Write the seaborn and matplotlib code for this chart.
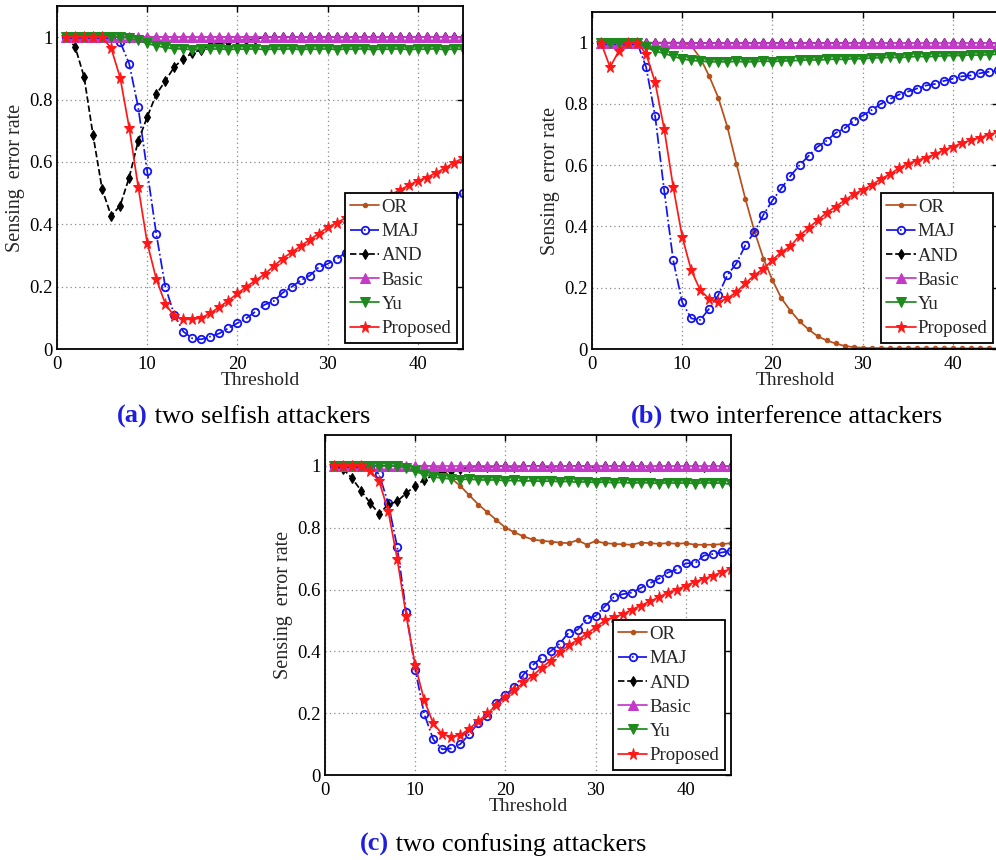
import numpy as np
import pandas as pd
import matplotlib
matplotlib.use("Agg")
import matplotlib.pyplot as plt
import seaborn as sns

# ---------------- data ----------------
threshold = list(range(1, 46))
series_names = ["OR", "MAJ", "AND", "Basic", "Yu", "Proposed"]
x_ticks = [0, 10, 20, 30, 40]
y_ticks = [0, 0.2, 0.4, 0.6, 0.8, 1.0]
y_tick_labels = ["0", "0.2", "0.4", "0.6", "0.8", "1"]
captions = [("(a)", " two selfish attackers"),
            ("(b)", " two interference attackers"),
            ("(c)", " two confusing attackers")]

# (a) two selfish attackers
a_or = [1.0] * 45
a_maj = [1.0, 1.0, 1.0, 1.0, 1.0, 1.0, 0.985, 0.915, 0.775, 0.57,
         0.37, 0.20, 0.11, 0.056, 0.034, 0.031, 0.04, 0.05, 0.067, 0.083,
         0.099, 0.12, 0.142, 0.153, 0.18, 0.199, 0.22, 0.235, 0.262, 0.273,
         0.289, 0.309, 0.325, 0.34, 0.355, 0.37, 0.385, 0.40, 0.415, 0.43,
         0.445, 0.46, 0.475, 0.49, 0.50]
a_and = [1.0, 0.97, 0.873, 0.685, 0.513, 0.427, 0.46, 0.55, 0.667, 0.744,
         0.817, 0.859, 0.905, 0.93, 0.95, 0.96, 0.975, 0.98, 0.985, 0.99,
         0.99, 0.995, 1.0, 1.0, 1.0, 1.0, 1.0, 1.0, 1.0, 1.0,
         1.0, 1.0, 1.0, 1.0, 1.0, 1.0, 1.0, 1.0, 1.0, 1.0,
         1.0, 1.0, 1.0, 1.0, 1.0]
a_basic = [1.0] * 45
a_yu = [1.0, 1.0, 1.0, 1.0, 1.0, 1.0, 1.0, 0.997, 0.99, 0.98,
        0.972, 0.967, 0.963, 0.962, 0.96, 0.962, 0.961, 0.963, 0.96, 0.962,
        0.961, 0.963, 0.96, 0.962, 0.961, 0.963, 0.96, 0.962, 0.961, 0.963,
        0.96, 0.962, 0.961, 0.963, 0.96, 0.962, 0.961, 0.963, 0.96, 0.962,
        0.961, 0.963, 0.96, 0.962, 0.961]
a_prop = [1.0, 1.0, 1.0, 1.0, 1.0, 0.965, 0.87, 0.71, 0.52, 0.34,
          0.225, 0.145, 0.105, 0.095, 0.095, 0.10, 0.115, 0.135, 0.155, 0.178,
          0.20, 0.22, 0.24, 0.265, 0.29, 0.31, 0.33, 0.35, 0.37, 0.39,
          0.405, 0.42, 0.435, 0.45, 0.465, 0.48, 0.495, 0.51, 0.525, 0.54,
          0.55, 0.565, 0.58, 0.598, 0.612]

# (b) two interference attackers
b_or = [1.0, 1.0, 1.0, 1.0, 1.0, 1.0, 1.0, 1.0, 1.0, 1.0,
        0.99, 0.95, 0.89, 0.82, 0.725, 0.605, 0.49, 0.385, 0.295, 0.225,
        0.165, 0.125, 0.09, 0.064, 0.042, 0.028, 0.018, 0.01, 0.006, 0.004,
        0.003, 0.003, 0.002, 0.002, 0.002, 0.002, 0.002, 0.002, 0.002, 0.002,
        0.002, 0.002, 0.002, 0.002, 0.002]
b_maj = [1.0, 1.0, 1.0, 1.0, 1.0, 0.92, 0.76, 0.518, 0.29, 0.152,
         0.10, 0.095, 0.132, 0.176, 0.241, 0.279, 0.339, 0.382, 0.438, 0.485,
         0.525, 0.565, 0.60, 0.63, 0.66, 0.68, 0.705, 0.72, 0.745, 0.762,
         0.78, 0.80, 0.815, 0.83, 0.84, 0.85, 0.86, 0.865, 0.875, 0.882,
         0.89, 0.893, 0.90, 0.905, 0.91]
b_and = [1.0] * 45
b_basic = [1.0] * 45
b_yu = [1.0, 1.0, 1.0, 1.0, 1.0, 0.985, 0.972, 0.965, 0.955, 0.947,
        0.942, 0.94, 0.937, 0.938, 0.937, 0.939, 0.937, 0.938, 0.94, 0.938,
        0.94, 0.941, 0.942, 0.944, 0.943, 0.945, 0.946, 0.945, 0.948, 0.947,
        0.95, 0.951, 0.952, 0.951, 0.953, 0.955, 0.954, 0.955, 0.957, 0.958,
        0.958, 0.96, 0.959, 0.961, 0.962]
b_prop = [1.0, 0.92, 0.974, 1.0, 1.0, 0.963, 0.87, 0.718, 0.529, 0.366,
          0.257, 0.192, 0.163, 0.154, 0.165, 0.186, 0.214, 0.241, 0.262, 0.29,
          0.317, 0.335, 0.37, 0.395, 0.42, 0.445, 0.465, 0.485, 0.505, 0.52,
          0.535, 0.555, 0.57, 0.59, 0.605, 0.615, 0.625, 0.635, 0.65, 0.66,
          0.672, 0.682, 0.69, 0.70, 0.708]

# (c) two confusing attackers
c_or = [1.0, 1.0, 1.0, 1.0, 1.0, 1.0, 1.0, 1.0, 1.0, 1.0,
        1.0, 1.0, 0.99, 0.96, 0.935, 0.905, 0.875, 0.85, 0.825, 0.80,
        0.785, 0.772, 0.762, 0.758, 0.755, 0.752, 0.75, 0.76, 0.745, 0.757,
        0.75, 0.748, 0.746, 0.745, 0.752, 0.75, 0.748, 0.75, 0.748, 0.75,
        0.745, 0.745, 0.745, 0.747, 0.75]
c_maj = [1.0, 1.0, 1.0, 1.0, 1.0, 0.973, 0.88, 0.739, 0.527, 0.341,
         0.197, 0.115, 0.083, 0.086, 0.10, 0.132, 0.169, 0.19, 0.233, 0.258,
         0.285, 0.325, 0.355, 0.38, 0.40, 0.425, 0.46, 0.47, 0.505, 0.515,
         0.545, 0.575, 0.585, 0.59, 0.605, 0.62, 0.635, 0.655, 0.665, 0.685,
         0.685, 0.71, 0.715, 0.72, 0.725]
c_and = [1.0, 0.99, 0.96, 0.92, 0.88, 0.845, 0.875, 0.885, 0.912, 0.935,
         0.955, 0.97, 0.98, 0.985, 0.99, 0.995, 1.0, 0.995, 1.0, 1.0,
         0.995, 1.0, 1.0, 1.0, 0.995, 1.0, 1.0, 1.0, 1.0, 0.995,
         1.0, 1.0, 1.0, 1.0, 1.0, 0.995, 1.0, 1.0, 1.0, 1.0,
         1.0, 0.995, 1.0, 1.0, 1.0]
c_basic = [1.0] * 45
c_yu = [1.0, 1.0, 1.0, 1.0, 1.0, 1.0, 1.0, 1.0, 0.993, 0.982,
        0.972, 0.965, 0.96, 0.958, 0.956, 0.957, 0.955, 0.954, 0.955, 0.952,
        0.953, 0.951, 0.952, 0.95, 0.951, 0.949, 0.95, 0.947, 0.949, 0.946,
        0.948, 0.945, 0.947, 0.944, 0.946, 0.945, 0.943, 0.946, 0.944, 0.945,
        0.943, 0.946, 0.944, 0.945, 0.94]
c_prop = [1.0, 1.0, 1.0, 1.0, 0.985, 0.95, 0.855, 0.70, 0.516, 0.355,
          0.242, 0.167, 0.132, 0.124, 0.129, 0.15, 0.174, 0.199, 0.226, 0.253,
          0.274, 0.30, 0.32, 0.347, 0.37, 0.398, 0.419, 0.437, 0.457, 0.478,
          0.50, 0.51, 0.52, 0.535, 0.548, 0.562, 0.575, 0.59, 0.60, 0.613,
          0.625, 0.635, 0.645, 0.657, 0.667]

panels = [
    [a_or, a_maj, a_and, a_basic, a_yu, a_prop],
    [b_or, b_maj, b_and, b_basic, b_yu, b_prop],
    [c_or, c_maj, c_and, c_basic, c_yu, c_prop],
]

# ---------------- styles ----------------
styles = {
    "OR":       dict(color="#B5501C", marker="o", linestyle="-", markersize=3.2,
                     markerfacecolor="#B5501C", markeredgecolor="#B5501C"),
    "MAJ":      dict(color="#1414F0", marker="o", linestyle="-.", markersize=5.4,
                     markerfacecolor="none", markeredgecolor="#1414F0", markeredgewidth=1.3),
    "AND":      dict(color="black", marker="d", linestyle="--", markersize=4.8,
                     markerfacecolor="black", markeredgecolor="black"),
    "Basic":    dict(color="#C33AC8", marker="^", linestyle="-", markersize=7,
                     markerfacecolor="#C33AC8", markeredgecolor="#C33AC8"),
    "Yu":       dict(color="#1E8A1E", marker="v", linestyle="-", markersize=7,
                     markerfacecolor="#1E8A1E", markeredgecolor="#1E8A1E"),
    "Proposed": dict(color="#FF1818", marker="*", linestyle="-", markersize=8.2,
                     markerfacecolor="#FF1818", markeredgecolor="#FF1818"),
}

sns.set_style("white")
plt.rcParams["font.family"] = ["Liberation Serif", "DejaVu Serif"]

fig = plt.figure(figsize=(9.96, 8.6), dpi=100)
W, H = 996.0, 860.0
# axes boxes in pixels: left, top, right, bottom
boxes = [(57, 6, 463, 349), (592, 12, 998, 349), (325, 435, 731, 775)]
legend_anchor = [(0.985, 0.018), (0.988, 0.018), (0.985, 0.015)]

for idx, (box, data) in enumerate(zip(boxes, panels)):
    l, t, r, b = box
    ax = fig.add_axes([l / W, (H - b) / H, (r - l) / W, (b - t) / H])
    ax.set_axisbelow(True)
    for name, vals in zip(series_names, data):
        st = styles[name]
        sns.lineplot(x=threshold, y=vals, ax=ax, label=name, linewidth=1.25,
                     sort=False, estimator=None, **st)
    ax.set_xlim(0, 45)
    ax.set_ylim(0, 1.1)
    ax.set_xticks(x_ticks)
    ax.set_xticklabels([str(v) for v in x_ticks])
    ax.set_yticks(y_ticks)
    ax.set_yticklabels(y_tick_labels)
    ax.tick_params(direction="in", top=True, right=True, length=4, width=1,
                   labelsize=13.5, colors="black")
    ax.tick_params(axis="x", pad=5)
    ax.tick_params(axis="y", pad=3)
    ax.grid(True, linestyle=(0, (1, 2.5)), color="#8a8a8a", linewidth=0.9)
    for sp in ax.spines.values():
        sp.set_color("black")
        sp.set_linewidth(1.3)
    ax.set_xlabel("Threshold", fontsize=14, labelpad=-1)
    ax.set_ylabel("Sensing  error rate", fontsize=14.5, labelpad=3)
    leg = ax.legend(loc="lower right", bbox_to_anchor=legend_anchor[idx],
                    borderaxespad=0, frameon=True, fancybox=False,
                    edgecolor="black", framealpha=1, fontsize=13.5,
                    handlelength=1.55, handletextpad=0.12, labelspacing=0.38,
                    borderpad=0.3, numpoints=1)
    leg.get_frame().set_linewidth(1.3)

# captions
cap_pos = [(117 / W, (H - 423) / H), (631 / W, (H - 423) / H), (360 / W, (H - 851) / H)]
for (tag, rest), (cx, cy) in zip(captions, cap_pos):
    t1 = fig.text(cx, cy, tag, fontsize=19, fontweight="bold", color="#1E1EE0",
                  ha="left", va="baseline")
    plt.annotate(rest, xy=(1, 0), xycoords=t1, fontsize=19, color="black",
                 ha="left", va="bottom", annotation_clip=False)

fig.savefig("out.png", dpi=100)
